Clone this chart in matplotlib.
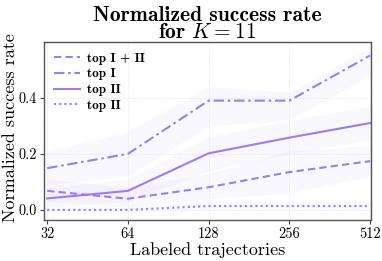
import matplotlib
matplotlib.use("Agg")
import matplotlib.pyplot as plt
import numpy as np

plt.rcParams['font.family'] = ['cmr10', 'DejaVu Serif']
plt.rcParams['mathtext.fontset'] = 'cm'
plt.rcParams['axes.formatter.use_mathtext'] = True
plt.rcParams['axes.unicode_minus'] = False

x_vals = [32, 64, 128, 256, 512]
x_labels = ['32', '64', '128', '256', '512']

top_I_II = [0.068, 0.040, 0.081, 0.135, 0.174]
top_I = [0.149, 0.200, 0.390, 0.390, 0.551]
top_II = [0.041, 0.068, 0.202, 0.258, 0.310]
top_II_b = [0.000, 0.000, 0.014, 0.014, 0.014]

top_I_II_lo = [0.030, 0.010, 0.040, 0.060, 0.120]
top_I_II_hi = [0.110, 0.080, 0.130, 0.210, 0.230]
top_I_lo = [0.090, 0.120, 0.300, 0.320, 0.480]
top_I_hi = [0.210, 0.280, 0.440, 0.420, 0.580]
top_II_lo = [0.010, 0.030, 0.140, 0.200, 0.250]
top_II_hi = [0.080, 0.110, 0.260, 0.320, 0.370]
top_II_b_lo = [0.000, 0.000, 0.000, 0.000, 0.000]
top_II_b_hi = [0.010, 0.010, 0.030, 0.030, 0.030]

color = '#9a7cf8'

fig = plt.figure(figsize=(3.82, 2.61), dpi=100)
ax = fig.add_axes([0.115, 0.157, 0.856, 0.683])

series = [
    (top_I_II, top_I_II_lo, top_I_II_hi, (0, (3.5, 2)), r'top I + II'),
    (top_I, top_I_lo, top_I_hi, (0, (5, 1.8, 1.2, 1.8)), r'top I'),
    (top_II, top_II_lo, top_II_hi, '-', r'top II'),
    (top_II_b, top_II_b_lo, top_II_b_hi, (0, (1, 1.5)), r'top II'),
]
for y, lo, hi, ls, lab in series:
    ax.fill_between(x_vals, lo, hi, color=color, alpha=0.05, linewidth=0)
    ax.plot(x_vals, y, color=color, linestyle=ls, linewidth=1.5, label=lab)

ax.set_xscale('log', base=2)
ax.set_xticks(x_vals)
ax.set_xticklabels(x_labels)
ax.minorticks_off()
ax.set_xlim(32 * 2 ** -0.04, 512 * 2 ** 0.01)
ax.set_ylim(-0.036, 0.6)
ax.set_yticks([0.0, 0.2, 0.4])
ax.set_yticklabels(['0.0', '0.2', '0.4'])
ax.tick_params(labelsize=10.3, length=3, color='#444444', pad=2)
ax.grid(True, linestyle=':', color='#dddddd', linewidth=0.6)
for s in ax.spines.values():
    s.set_color('#555555')
    s.set_linewidth(1.0)

ax.set_xlabel('Labeled trajectories', fontsize=13, labelpad=1)
ax.set_ylabel('Normalized success rate', fontsize=13)
ax.yaxis.set_label_coords(-0.08, 0.52)
ax.set_title('Normalized success rate\nfor $K = 11$', fontsize=15.5,
             fontfamily=['cmb10', 'DejaVu Serif'], linespacing=0.85, pad=3)

leg = ax.legend(loc='upper left', frameon=False,
                prop={'family': ['cmb10', 'DejaVu Serif'], 'size': 9.5},
                handlelength=1.9, handletextpad=0.6, labelspacing=0.27,
                borderaxespad=0.4)

fig.savefig('out.png', dpi=100)
